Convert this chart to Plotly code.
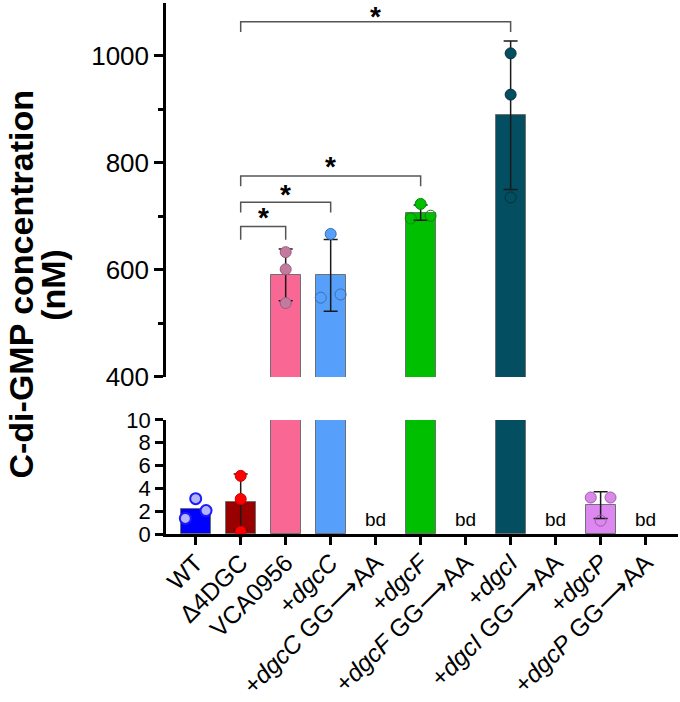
import numpy as np
import plotly.graph_objects as go

# ---------------- data ----------------
categories = ["WT", "Δ4DGC", "VCA0956", "+<i>dgcC</i>", "+<i>dgcC</i> GG⟶AA",
              "+<i>dgcF</i>", "+<i>dgcF</i> GG⟶AA", "+<i>dgcI</i>", "+<i>dgcI</i> GG⟶AA",
              "+<i>dgcP</i>", "+<i>dgcP</i> GG⟶AA"]

wt_vals = [1.37, 3.10, 2.05]
d4dgc_vals = [5.10, 3.07, 0.20]
vca0956_vals = [633, 601, 538]
dgcC_vals = [667, 548, 554]
dgcF_vals = [723, 696, 701]
dgcI_vals = [1004, 927, 735]
dgcP_vals = [3.20, 3.20, 1.17]
bd_label = "bd"
y_title_lines = ["C-di-GMP concentration", "(nM)"]

# significance comparisons: (from category, to category, label)
comparisons = [(1, 7, "*"), (1, 5, "*"), (1, 3, "*"), (1, 2, "*")]

# ---------------- styles ----------------
# index, values, bar colour, point fill, point outline, filled flags, x jitter, show error bar, outline width
groups = [
    (0, wt_vals, "#0000FF", "#B4B4F8", "#1A1AFF", [1, 1, 1], [-0.23, 0.0, 0.23], False, 2.0),
    (1, d4dgc_vals, "#990000", "#FF0000", "#D00000", [1, 1, 1], [0, 0, 0], True, 1.0),
    (2, vca0956_vals, "#F96894", "#C47A9E", "#9A5C7C", [1, 1, 1], [0, 0, 0], True, 1.0),
    (3, dgcC_vals, "#56A0FB", "#56A0FB", "#3A6FB0", [1, 0, 0], [0, -0.22, 0.22], True, 1.0),
    (5, dgcF_vals, "#00BF00", "#00C000", "#008A00", [1, 0, 0], [0, -0.22, 0.22], True, 1.0),
    (7, dgcI_vals, "#034E61", "#034E61", "#02303C", [1, 1, 0], [0, 0, 0], True, 1.0),
    (9, dgcP_vals, "#DD88F0", "#D98AE8", "#9C5AAE", [1, 1, 0], [-0.22, 0.22, 0], True, 1.0),
]
bracket_levels = [1063, 775, 726, 681]
bracket_drops = [19, 19, 19, 25]
star_tops = [1098, 823, 771, 729]
star_shift = [3, 0, 0, 0]
title_x = [-0.283, -0.22]

FONT = "Arial, 'Liberation Sans', Helvetica, sans-serif"

n = len(categories)
means = [None] * n
bar_colors = ["rgba(0,0,0,0)"] * n
for (i, vals, bc, *_rest) in groups:
    means[i] = float(np.mean(vals))
    bar_colors[i] = bc

fig = go.Figure()

# bars on both panels
for ax in ["y", "y2"]:
    fig.add_trace(go.Bar(
        x=list(range(n)), y=means, width=0.667, xaxis="x", yaxis=ax,
        marker=dict(color=bar_colors, line=dict(color="#707070", width=1)),
        hoverinfo="skip"))

# error bars and points
for (i, vals, bc, pf, pl, filled, jit, show_err, lw) in groups:
    m = float(np.mean(vals))
    sd = float(np.std(vals, ddof=1))
    ax = "y" if m < 10 else "y2"
    if show_err:
        fig.add_trace(go.Scatter(
            x=[i], y=[m], xaxis="x", yaxis=ax, mode="markers",
            marker=dict(size=1, color="rgba(0,0,0,0)"),
            error_y=dict(type="data", array=[sd], color="#1a1a1a", thickness=1.5, width=7),
            cliponaxis=False, hoverinfo="skip"))
    fills = [pf if f else "rgba(0,0,0,0)" for f in filled]
    fig.add_trace(go.Scatter(
        x=[i + j for j in jit], y=vals, xaxis="x", yaxis=ax, mode="markers",
        marker=dict(size=11, color=fills, line=dict(color=pl, width=lw)),
        cliponaxis=False, hoverinfo="skip"))

shapes = []
annotations = []
for (a, b, lab), lev, drop, st, sh in zip(comparisons, bracket_levels, bracket_drops, star_tops, star_shift):
    shapes.append(dict(type="path", xref="x", yref="y2",
                       path=f"M {a},{lev - drop} L {a},{lev} L {b},{lev} L {b},{lev - drop}",
                       line=dict(color="#555555", width=1.5)))
    annotations.append(dict(x=(a + b) / 2, y=st, xref="x", yref="y2", text=f"<b>{lab}</b>",
                            showarrow=False, font=dict(size=28, color="black", family=FONT),
                            yanchor="top", borderpad=0, yshift=sh))

for i in range(n):
    if means[i] is None:
        annotations.append(dict(x=i, y=1.3, xref="x", yref="y", text=bd_label, showarrow=False,
                                font=dict(size=19, color="black", family=FONT), yanchor="middle"))

for line, tx in zip(y_title_lines, title_x):
    annotations.append(dict(x=tx, y=0.47, xref="paper", yref="paper", textangle=-90,
                            text=f"<b>{line}</b>", showarrow=False, borderpad=0,
                            font=dict(size=34, color="black", family=FONT),
                            xanchor="center", yanchor="middle"))

fig.update_layout(
    width=680, height=702,
    margin=dict(l=166, r=2, t=3, b=168, autoexpand=False),
    plot_bgcolor="white", paper_bgcolor="white",
    showlegend=False, bargap=0,
    font=dict(family=FONT, color="black"),
    shapes=shapes, annotations=annotations,
    xaxis=dict(domain=[0, 1], range=[-0.66, 10.72], anchor="y", automargin=False,
               tickmode="array", tickvals=list(range(n)), ticktext=categories,
               tickangle=-45, tickfont=dict(size=24.5, family=FONT, color="black"),
               ticklabelstandoff=-6,
               ticks="outside", ticklen=8, tickwidth=2.5, tickcolor="black",
               showline=True, linewidth=2.5, linecolor="black", showgrid=False, zeroline=False),
    yaxis=dict(domain=[0, 0.2147], range=[0, 10], anchor="x", automargin=False,
               tickmode="array", tickvals=[0, 2, 4, 6, 8, 10],
               tickfont=dict(size=22, family=FONT, color="black"),
               ticks="outside", ticklen=8, tickwidth=2.5, tickcolor="black",
               showline=True, linewidth=2.5, linecolor="black", showgrid=False, zeroline=False),
    yaxis2=dict(domain=[0.2957, 1], range=[400, 1098], anchor="x", automargin=False,
                tickmode="array", tickvals=[400, 600, 800, 1000],
                tickfont=dict(size=26, family=FONT, color="black"),
                ticks="outside", ticklen=9, tickwidth=2.5, tickcolor="black",
                minor=dict(tickmode="array", tickvals=[500, 700, 900], ticks="outside",
                           ticklen=5, tickwidth=2.5, tickcolor="black"),
                showline=True, linewidth=2.5, linecolor="black", showgrid=False, zeroline=False),
)

fig.write_html("out.html")
